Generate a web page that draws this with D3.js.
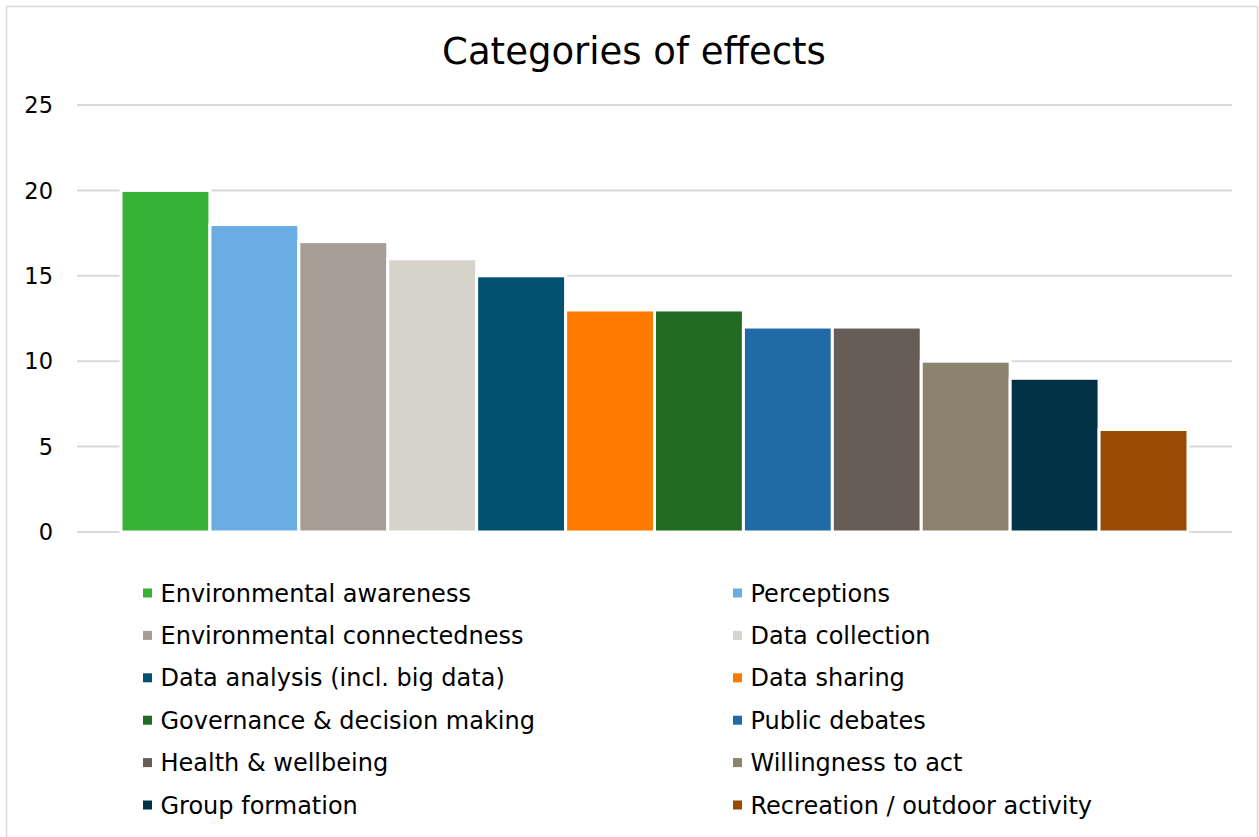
<!DOCTYPE html>
<html>
<head>
<meta charset="utf-8">
<script src="https://cdn.jsdelivr.net/npm/d3@7"></script>
<style>
  body { margin: 0; background: #fff; }
  svg text { font-family: "DejaVu Sans", Verdana, sans-serif; fill: #000; }
</style>
</head>
<body>
<svg id="chart" width="1259" height="837"></svg>
<script>
// data
const categories = ['Environmental awareness', 'Perceptions', 'Environmental connectedness',
  'Data collection', 'Data analysis (incl. big data)', 'Data sharing',
  'Governance & decision making', 'Public debates', 'Health & wellbeing',
  'Willingness to act', 'Group formation', 'Recreation / outdoor activity']
const values = [20, 18, 17, 16, 15, 13, 13, 12, 12, 10, 9, 6]
const colors = ['#36b236', '#6aade4', '#a59d96', '#d6d3cb', '#005172', '#ff7900',
  '#216b22', '#206aa8', '#665d57', '#8b836e', '#013246', '#9a4a02']
const yTicks = [0, 5, 10, 15, 20, 25]

const svg = d3.select('#chart')
const width = 1259
const height = 837

// outer frame
svg.append('rect')
  .attr('x', 6.5).attr('y', 6.5)
  .attr('width', width - 8).attr('height', height - 6)
  .attr('fill', 'none')
  .attr('stroke', '#d9d9d9')
  .attr('stroke-width', 1.5)

svg.append('text')
  .attr('x', 634)
  .attr('y', 64)
  .attr('text-anchor', 'middle')
  .style('font-size', '37px')
  .text('Categories of effects')

const gridLeft = 77, gridRight = 1232
const yScale = d3.scaleLinear().domain([0, 25]).range([532, 105])
const xScale = d3.scaleBand().domain(categories).range([121, 1188]).paddingInner(0)

// gridlines
svg.append('g')
  .selectAll('line')
  .data(yTicks)
  .enter()
  .append('line')
  .attr('x1', gridLeft).attr('x2', gridRight)
  .attr('y1', d => yScale(d)).attr('y2', d => yScale(d))
  .attr('stroke', '#d9d9d9')
  .attr('stroke-width', 2)

// y tick labels
svg.append('g')
  .selectAll('text')
  .data(yTicks)
  .enter()
  .append('text')
  .attr('x', 53)
  .attr('y', d => yScale(d))
  .attr('dy', '0.36em')
  .attr('text-anchor', 'end')
  .style('font-size', '22.5px')
  .text(d => d)

// bars
svg.append('g')
  .selectAll('rect')
  .data(values)
  .enter()
  .append('rect')
  .attr('x', (d, i) => xScale(categories[i]))
  .attr('y', d => yScale(d))
  .attr('width', xScale.bandwidth())
  .attr('height', d => yScale(0) - yScale(d))
  .attr('fill', (d, i) => colors[i])
  .attr('stroke', '#fff')
  .attr('stroke-width', 3)

// legend, two columns
const legendCols = [143, 733]
const legendY = d3.scaleLinear().domain([0, 5]).range([593, 805])
let legend = svg.append('g')
  .selectAll('g')
  .data(categories)
  .enter()
  .append('g')
  .attr('transform', (d, i) => 'translate(' + legendCols[i % 2] + ',' + legendY(Math.floor(i / 2)) + ')')

legend.append('rect')
  .attr('x', 0).attr('y', -4.5)
  .attr('width', 9).attr('height', 9)
  .attr('fill', (d, i) => colors[i])

legend.append('text')
  .attr('x', 17.5)
  .attr('dy', '0.36em')
  .style('font-size', '24px')
  .text(d => d)
</script>
</body>
</html>
